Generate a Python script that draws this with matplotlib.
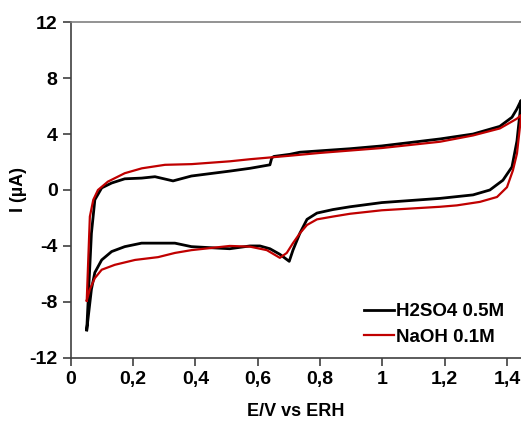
import matplotlib
matplotlib.use("Agg")
import matplotlib.pyplot as plt

plt.rcParams['font.family'] = ['Liberation Sans', 'DejaVu Sans']
plt.rcParams['font.weight'] = 'bold'
plt.rcParams['axes.unicode_minus'] = False

# H2SO4 0.5M, anodic sweep then cathodic sweep
h2so4_e = [0.051, 0.066, 0.077, 0.099, 0.131, 0.173, 0.227, 0.270, 0.328, 0.387, 0.510,
           0.575, 0.639, 0.645, 0.652, 0.703, 0.735, 0.896, 0.998, 1.185, 1.291, 1.377,
           1.416, 1.432, 1.445,
           1.445, 1.432, 1.416, 1.387, 1.345, 1.291, 1.185, 0.998, 0.896, 0.841, 0.790,
           0.758, 0.735, 0.713, 0.701, 0.671, 0.639, 0.607, 0.575, 0.510, 0.387, 0.334,
           0.270, 0.227, 0.173, 0.131, 0.099, 0.077, 0.066, 0.051]
h2so4_i = [-10.0, -3.1, -0.7, 0.15, 0.5, 0.8, 0.85, 0.95, 0.65, 1.0, 1.35,
           1.55, 1.8, 2.3, 2.4, 2.55, 2.7, 2.95, 3.15, 3.65, 4.0, 4.55,
           5.2, 5.8, 6.4,
           6.2, 3.5, 1.65, 0.7, 0.0, -0.35, -0.6, -0.9, -1.2, -1.4, -1.65,
           -2.1, -3.1, -4.3, -5.1, -4.6, -4.2, -4.0, -4.0, -4.2, -4.05, -3.8,
           -3.8, -3.8, -4.05, -4.4, -5.0, -5.9, -7.1, -10.0]

# NaOH 0.1M, anodic sweep then cathodic sweep
naoh_e = [0.051, 0.061, 0.072, 0.087, 0.119, 0.173, 0.228, 0.302, 0.388, 0.510, 0.575,
          0.703, 0.799, 0.998, 1.185, 1.291, 1.377, 1.432, 1.445,
          1.445, 1.432, 1.419, 1.400, 1.368, 1.313, 1.239, 1.185, 0.998, 0.896, 0.841,
          0.790, 0.758, 0.735, 0.713, 0.693, 0.671, 0.629, 0.575, 0.510, 0.387, 0.334,
          0.280, 0.206, 0.141, 0.099, 0.077, 0.061, 0.051]
naoh_i = [-7.9, -1.9, -0.7, 0.0, 0.6, 1.2, 1.55, 1.8, 1.85, 2.05, 2.2,
          2.45, 2.65, 3.0, 3.45, 3.9, 4.4, 5.1, 5.35,
          5.2, 2.6, 1.4, 0.2, -0.5, -0.85, -1.1, -1.2, -1.45, -1.7, -1.9,
          -2.1, -2.5, -3.1, -3.8, -4.5, -4.85, -4.3, -4.05, -4.0, -4.3, -4.5,
          -4.8, -5.0, -5.35, -5.7, -6.3, -7.1, -7.9]

xticks = [0, 0.2, 0.4, 0.6, 0.8, 1.0, 1.2, 1.4]
xtick_labels = ['0', '0,2', '0,4', '0,6', '0,8', '1', '1,2', '1,4']
yticks = [-12, -8, -4, 0, 4, 8, 12]

fig = plt.figure(figsize=(5.21, 4.26), dpi=100)
ax = fig.add_axes([0.136, 0.16, 0.864, 0.788])

ax.plot(h2so4_e, h2so4_i, color='black', lw=2.0, label='H2SO4 0.5M')
ax.plot(naoh_e, naoh_i, color='#c00000', lw=1.6, label='NaOH 0.1M')

ax.set_xlim(0, 1.445)
ax.set_ylim(-12, 12)
ax.set_xticks(xticks)
ax.set_xticklabels(xtick_labels)
ax.set_yticks(yticks)
ax.tick_params(labelsize=14, length=6, width=1.2, color='#404040', direction='out')
for lab in ax.get_xticklabels() + ax.get_yticklabels():
    lab.set_fontweight('bold')

ax.spines['right'].set_visible(False)
ax.spines['top'].set_color('#808080')
ax.spines['top'].set_linewidth(1.2)
ax.spines['left'].set_color('#404040')
ax.spines['bottom'].set_color('#404040')
ax.spines['left'].set_linewidth(1.2)
ax.spines['bottom'].set_linewidth(1.2)

ax.set_xlabel('E/V vs ERH', fontsize=13, fontweight='bold', labelpad=11)
ax.set_ylabel('I (µA)', fontsize=13, fontweight='bold', labelpad=2)

ax.legend(loc='lower right', frameon=False, fontsize=13.5, handlelength=1.6,
          handletextpad=0.1, labelspacing=0.45, bbox_to_anchor=(1.0, -0.015))

fig.savefig('out.png', dpi=100)
